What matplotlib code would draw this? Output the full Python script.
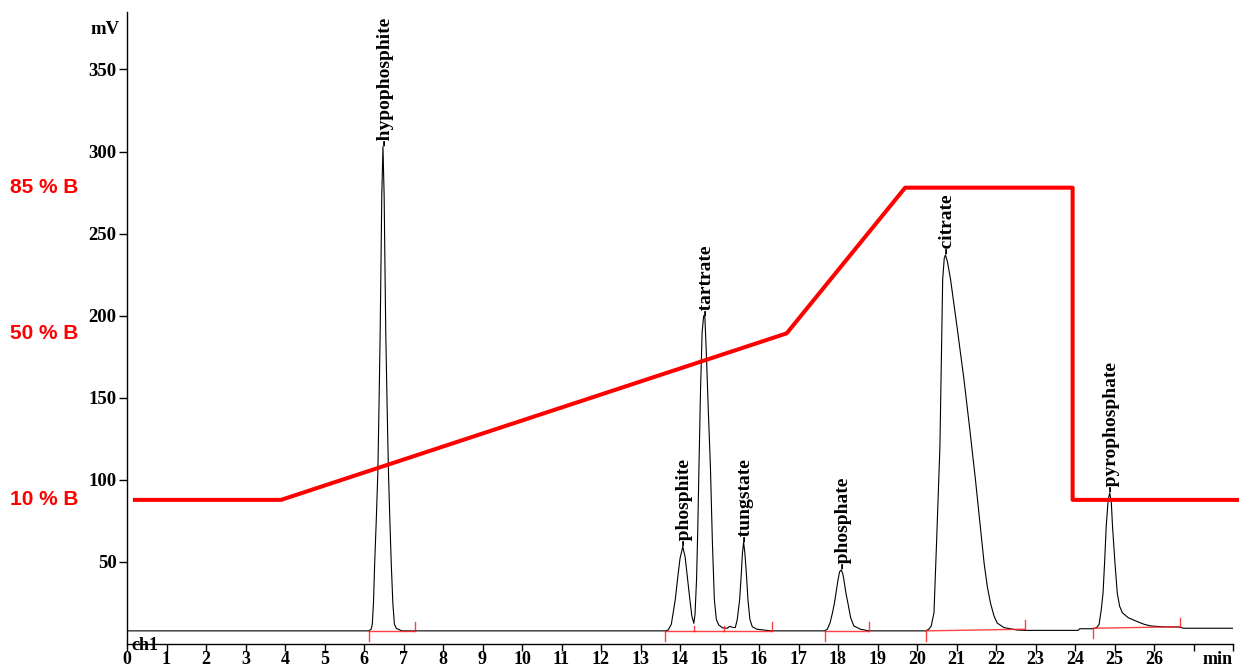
import numpy as np
import matplotlib
matplotlib.use("Agg")
import matplotlib.pyplot as plt
import matplotlib.transforms as mtransforms

# detector trace (min, mV)
trace_t = [0.0, 6.12, 6.18, 6.21, 6.24, 6.27, 6.31, 6.35, 6.38, 6.41, 6.45, 6.48,
           6.51, 6.55, 6.585, 6.62, 6.655, 6.69, 6.73, 6.77, 6.82, 6.96,
           13.63, 13.70, 13.78, 13.88, 13.94, 14.00, 14.07, 14.13, 14.19, 14.25, 14.30, 14.35,
           14.38, 14.42, 14.45, 14.48, 14.52, 14.56, 14.60, 14.63, 14.67, 14.72, 14.77,
           14.82, 14.87, 14.92, 14.98, 15.08, 15.20, 15.26, 15.32,
           15.40, 15.45, 15.51, 15.55, 15.58, 15.61, 15.64, 15.68, 15.72, 15.77, 15.83,
           15.95, 16.30,
           17.66, 17.73, 17.80, 17.86, 17.91, 17.96, 18.00, 18.04, 18.08, 18.12, 18.15,
           18.20, 18.25, 18.32, 18.40, 18.57, 18.78,
           20.22, 20.30, 20.36, 20.43, 20.50, 20.58, 20.62, 20.65, 20.69, 20.72, 20.77,
           20.85, 21.02, 21.19, 21.34, 21.48, 21.60, 21.70, 21.78, 21.86, 21.95, 22.03,
           22.20, 22.54, 22.73, 24.08, 24.12,
           24.46, 24.55, 24.61, 24.66, 24.71, 24.75, 24.79, 24.84, 24.88, 24.92, 24.95,
           25.01, 25.07, 25.13, 25.20, 25.35, 25.58, 25.75, 25.92, 26.20, 26.65, 26.75,
           28.0]
trace_mv = [8.0, 8.0, 9.0, 12, 25, 49, 75, 104, 145, 191, 273, 303,
            273, 191, 145, 104, 75, 49, 25, 12, 9.5, 8.0,
            8.0, 8.5, 12, 27, 40, 52, 59.3, 53, 40, 27, 17, 12.6,
            18, 40, 70, 108, 155, 190, 200, 199, 175, 140, 108,
            62, 27, 15, 11.6, 9.8, 9.6, 10.8, 10.2,
            10, 15, 27, 42, 55, 62, 56, 43, 27, 15, 10.5,
            9.0, 8.0,
            8.0, 9.0, 13, 19, 25, 33, 39, 44, 45.1, 43, 39,
            31, 25, 16, 11, 9.0, 8.0,
            8.0, 9.0, 11, 19, 65, 120, 180, 222, 235, 237, 233,
            222, 192, 161, 130, 100, 72, 49, 35, 25, 17, 12.8,
            10, 8.5, 8.3, 8.3, 9.3,
            9.3, 10, 12, 20, 31, 50, 71.5, 88, 92, 86, 71.5,
            50, 31, 23, 19, 16, 13.6, 12, 11, 10.5, 10.3, 9.6,
            9.6]

peak_names = ["hypophosphite", "phosphite", "tartrate", "tungstate",
              "phosphate", "citrate", "pyrophosphate"]
peak_times = [6.48, 14.07, 14.61, 15.61, 18.08, 20.72, 24.88]

# integration windows: start, end (min) and baseline level (mV) at each end
win_start = [6.12, 13.63, 14.35, 15.11, 17.66, 20.22, 24.46]
win_end = [7.30, 14.35, 15.11, 16.33, 18.78, 22.73, 26.65]
win_base_start = [8.0, 8.0, 8.0, 8.0, 8.0, 8.0, 9.6]
win_base_end = [8.0, 8.0, 8.0, 8.0, 8.0, 9.0, 10.5]

# eluent gradient (%B)
grad_t = [0.2, 3.9, 16.7, 19.7, 23.94, 23.94, 28.17]
grad_b = [10, 10, 50, 85, 85, 10, 10]
grad_levels = [10, 50, 85]

serif = "Liberation Serif"
sans = "Liberation Sans"
red_mark = "#ff2020"

fig = plt.figure(figsize=(12.39, 6.67), dpi=100)
ax = fig.add_axes([127 / 1239, 23 / 667, 1106 / 1239, 632 / 667])
ax.set_xlim(0, 28)
ax.set_ylim(0, 385)

ax.plot(trace_t, trace_mv, color="black", lw=0.8, zorder=3)

# integration marks
for i in range(len(win_start)):
    ax.plot([win_start[i], win_end[i]], [win_base_start[i], win_base_end[i]],
            color=red_mark, lw=1.0, alpha=0.85, zorder=4)
    shared = i > 0 and abs(win_start[i] - win_end[i - 1]) < 1e-6
    if shared:
        ax.plot([win_start[i]] * 2, [win_base_start[i], win_base_start[i] + 3],
                color=red_mark, lw=1.0, alpha=0.85, zorder=4)
    else:
        ax.plot([win_start[i]] * 2, [win_base_start[i], win_base_start[i] - 6],
                color=red_mark, lw=1.0, alpha=0.85, zorder=4, clip_on=False)
    if not (i + 1 < len(win_start) and abs(win_start[i + 1] - win_end[i]) < 1e-6):
        ax.plot([win_end[i]] * 2, [win_base_end[i], win_base_end[i] + 5.5],
                color=red_mark, lw=1.0, alpha=0.85, zorder=4)

# peak labels
for name, t in zip(peak_names, peak_times):
    h = np.interp(t, trace_t, trace_mv)
    ax.annotate("-" + name, (t, h), xytext=(1, 0.5), textcoords="offset points",
                rotation=90, ha="center", va="bottom", fontsize=14,
                fontweight="bold", family=serif)

# gradient on a twin axis scaled so %B lines up with the mV axis
ax2 = ax.twinx()
ax2.set_ylim(-24.62, 127.2)
ax2.axis("off")
ax2.plot(grad_t, grad_b, color="red", lw=2.9, clip_on=False, zorder=5)
trans = mtransforms.blended_transform_factory(fig.transFigure, ax2.transData)
for lv in grad_levels:
    ax2.text(10 / 1239, lv, f"{lv} % B", transform=trans, color="red",
             fontsize=15, fontweight="bold", family=sans, ha="left", va="center")

# axes styling
for s in ["top", "right"]:
    ax.spines[s].set_visible(False)
ax.spines["left"].set_linewidth(1.0)
ax.spines["bottom"].set_linewidth(1.0)

ax.set_yticks([50, 100, 150, 200, 250, 300, 350])
ax.set_xticks(range(0, 29))
xlabels = [str(i) for i in range(0, 27)] + ["", "min"]
ax.set_xticklabels(xlabels)
ax.tick_params(axis="y", direction="out", length=6, width=1.0, pad=1.5,
               labelsize=13.5)
ax.tick_params(axis="x", direction="out", length=5, width=1.0, pad=0,
               labelsize=13)
for lab in ax.get_xticklabels() + ax.get_yticklabels():
    lab.set_fontfamily(serif)
    lab.set_fontweight("bold")
ax.get_xticklabels()[-1].set_horizontalalignment("right")

ytrans = mtransforms.blended_transform_factory(ax.transAxes, ax.transData)
ax.text(-0.007, 374.6, "mV", transform=ytrans, ha="right", va="center",
        fontsize=13.5, fontweight="bold", family=serif)
ax.text(0.004, -0.8, "ch1", transform=ytrans, ha="left", va="center",
        fontsize=13, fontweight="bold", family=serif, clip_on=False)

fig.savefig("out.png", dpi=100)
